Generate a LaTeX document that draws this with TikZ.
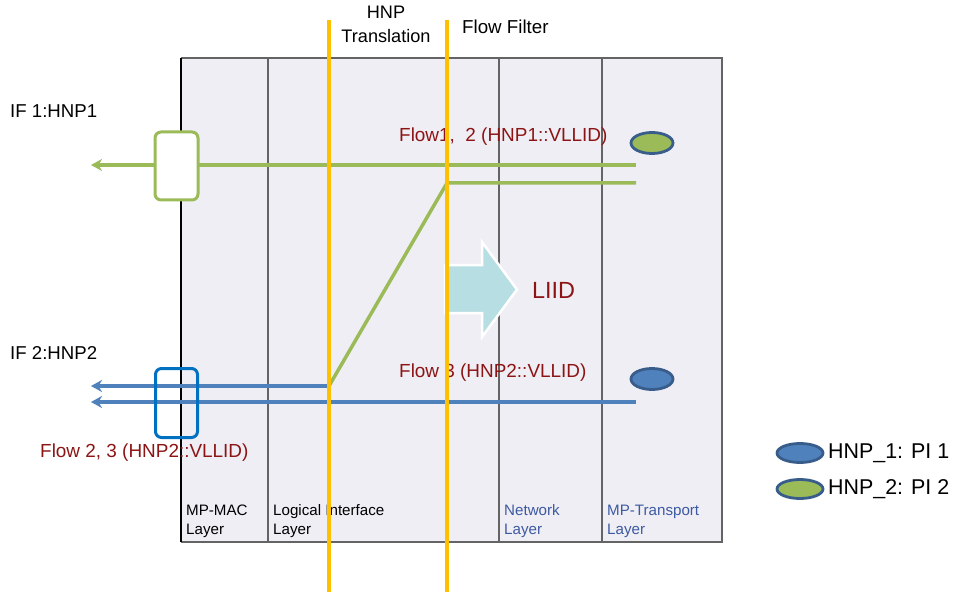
\documentclass[tikz,border=0pt]{standalone}
\usepackage{fontspec}
\setmainfont{Liberation Sans}
\usetikzlibrary{arrows.meta,shapes.geometric}
\definecolor{grn}{RGB}{155,187,89}
\definecolor{blu}{RGB}{79,129,189}
\definecolor{dblu}{RGB}{56,93,138}
\definecolor{boxblu}{RGB}{0,112,192}
\definecolor{yel}{RGB}{255,192,0}
\definecolor{bg}{RGB}{240,238,245}
\definecolor{dred}{RGB}{140,20,20}
\definecolor{lblu}{RGB}{60,90,160}
\definecolor{cyanarrow}{RGB}{183,222,226}
\definecolor{edgegray}{RGB}{100,100,100}
\begin{document}
\begin{tikzpicture}[x=1bp,y=-1bp,
  txt/.style={inner sep=0pt, anchor=west},
  flowtxt/.style={txt, text=dred, font=\fontsize{19}{21}\selectfont},
  laytxt/.style={inner sep=0pt, anchor=north west, align=left, font=\fontsize{15.2}{19}\selectfont},
  gline/.style={draw=grn, line width=3.5bp},
  bline/.style={draw=blu, line width=3.5bp},
  tip/.style={-{Stealth[length=11bp,width=12bp,inset=3.5bp]}},
  yline/.style={draw=yel, line width=4bp},
  divider/.style={draw=edgegray, line width=1.6bp},
  pi/.style={ellipse, draw=dblu, line width=2.8bp, minimum width=42bp, minimum height=21bp, inner sep=0pt},
  legpi/.style={pi, minimum width=46bp, minimum height=19bp},
  iface/.style={rounded corners=6bp, line width=3bp}
]
\useasboundingbox (0,0) rectangle (958,592);

% frame of layers
\fill[bg] (181,58) rectangle (722,542);
\draw[divider] (181,58) -- (722,58) -- (722,542) -- (181,542);
\draw[draw=black, line width=1.4bp] (181,58) -- (181,542);
\draw[divider] (268,58) -- (268,542);
\draw[divider] (499,58) -- (499,542);
\draw[divider] (602,58) -- (602,542);

% coordinates of flow ends
\coordinate (g1end) at (636,165);
\coordinate (g1tip) at (91,165);
\coordinate (g2end) at (636,183);
\coordinate (g2bend) at (447,183);
\coordinate (b1start) at (329,386);
\coordinate (b1tip) at (91,386);
\coordinate (b2end) at (636,402);
\coordinate (b2tip) at (91,402);

% flows
\draw[gline, tip] (g1end) -- (g1tip);
\draw[gline] (g2end) -- (g2bend) -- (b1start);
\draw[bline, tip] (b1start) -- (b1tip);
\draw[bline, tip] (b2end) -- (b2tip);

% interfaces
\node[draw=grn, fill=white, iface, minimum width=43bp, minimum height=68bp] (if1) at (176.5,166) {};
\node[draw=boxblu, iface, minimum width=42bp, minimum height=69bp] (if2) at (176.5,403) {};

% PI ellipses
\node[pi, fill=grn] (pi1) at (652,143) {};
\node[pi, fill=blu] (pi2) at (652,379) {};

% LIID block arrow
\draw[fill=cyanarrow, draw=white, line width=2.5bp, line join=miter]
  (445,265) -- (482,265) -- (482,242) -- (517,289.5) -- (482,337) -- (482,313) -- (445,313) -- cycle;
\node[txt, text=dred, font=\fontsize{23.5}{25}\selectfont] (liid) at (532,290) {LIID};

% texts
\node[txt, font=\fontsize{18.7}{20}\selectfont] (if1lab) at (10,111) {IF 1:HNP1};
\node[txt, font=\fontsize{18.7}{20}\selectfont] (if2lab) at (10,353) {IF 2:HNP2};
\node[flowtxt] (f23) at (40,453) {Flow 2, 3 (HNP2::VLLID)};
\node[flowtxt] (f12) at (399,137) {Flow1,\ \ 2 (HNP1::VLLID)};
\node[flowtxt] (f3) at (399,373) {Flow 3 (HNP2::VLLID)};

% layer labels
\node[laytxt] (lmac) at (186,504.5) {MP-MAC\\Layer};
\node[laytxt] (llog) at (273,504.5) {Logical Interface\\Layer};
\node[laytxt, text=lblu] (lnet) at (504,504.5) {Network\\Layer};
\node[laytxt, text=lblu] (ltra) at (607,504.5) {MP-Transport\\Layer};

% yellow boundaries
\coordinate (y1top) at (329,20);
\coordinate (y1bot) at (329,592);
\coordinate (y2top) at (447,20);
\coordinate (y2bot) at (447,592);
\draw[yline] (y1top) -- (y1bot);
\draw[yline] (y2top) -- (y2bot);
\node[inner sep=0pt, align=center, font=\fontsize{18.2}{24}\selectfont] (hnpt) at (386,24.5) {HNP\\Translation};
\node[txt, font=\fontsize{18.8}{20}\selectfont] (ff) at (462,27) {Flow Filter};

% legend
\node[legpi, fill=blu] (leg1) at (800,453) {};
\node[legpi, fill=grn] (leg2) at (800,489) {};
\node[txt, font=\fontsize{21.5}{24}\selectfont, anchor=west] (leg1t) at (828,453) {HNP\_1: PI 1};
\node[txt, font=\fontsize{21.5}{24}\selectfont, anchor=west] (leg2t) at (828,489) {HNP\_2: PI 2};
\end{tikzpicture}
\end{document}
